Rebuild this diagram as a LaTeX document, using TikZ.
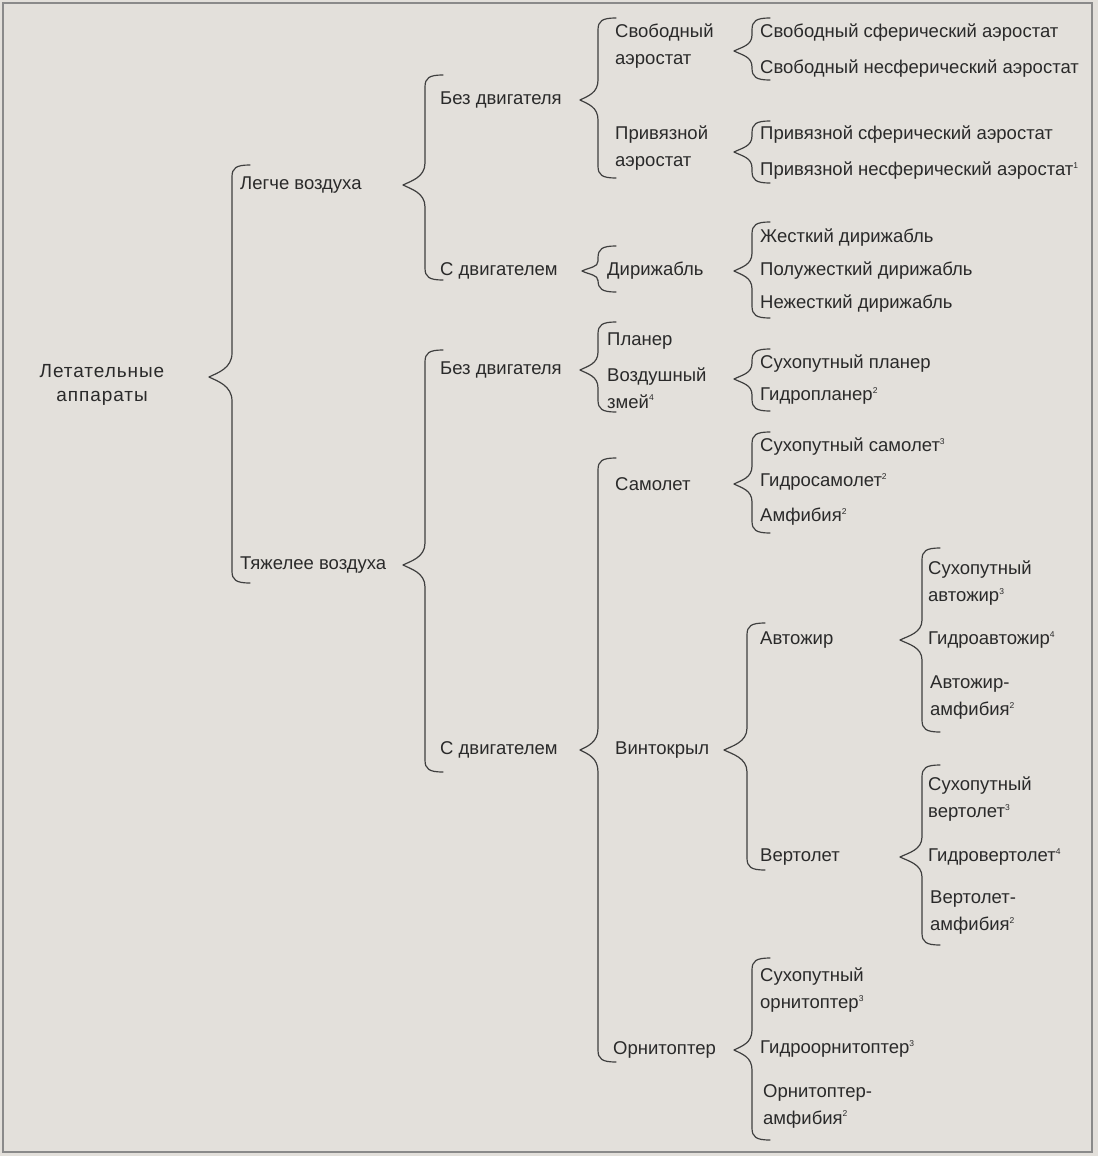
\documentclass[tikz,border=0pt]{standalone}
\usepackage{fontspec}
\setmainfont{Liberation Sans}
\definecolor{bg}{HTML}{E3E0DB}
\definecolor{ink}{HTML}{2A2A2A}
\definecolor{frame}{HTML}{8A8A8A}
\newcommand\fnm[1]{\raisebox{0.75ex}{\fontsize{8.5}{8.5}\selectfont #1}}
% brace: #1 line x, #2 top y, #3 bottom y, #4 tip y, #5 tip x, #6 curve length
\newcommand\brc[6]{%
 \draw[brcline] (#1+18,#2) .. controls (#1+4,#2) and (#1,#2+3) .. (#1,#2+12)
   -- (#1,#4-#6) .. controls (#1,#4-#6*0.35) and (#5+8,#4-4) .. (#5,#4)
   .. controls (#5+8,#4+4) and (#1,#4+#6*0.35) .. (#1,#4+#6)
   -- (#1,#3-12) .. controls (#1,#3-3) and (#1+4,#3) .. (#1+18,#3);}
\tikzset{
 lbl/.style={anchor=west,inner sep=0pt,text=ink,align=left,font=\fontsize{18.5}{27}\selectfont},
 brcline/.style={draw=ink!90,line width=1.2pt,line cap=round,line join=round}
}
\begin{document}
\begin{tikzpicture}[x=1pt,y=-1pt]
\fill[bg] (0,0) rectangle (1098,1156);
\useasboundingbox (0,0) rectangle (1098,1156);
\draw[frame,line width=1.5pt] (3,3) rectangle (1092,1152);

% level 0
\node[lbl,anchor=center,align=center,font=\fontsize{19}{24}\selectfont\addfontfeature{LetterSpace=5}] (root) at (102,385) {Летательные\\аппараты};
% level 1
\node[lbl] (light) at (240,185) {Легче воздуха};
\node[lbl] (heavy) at (240,565) {Тяжелее воздуха};
% level 2
\node[lbl] (lnoeng) at (440,100) {Без двигателя};
\node[lbl] (leng) at (440,271) {С двигателем};
\node[lbl] (hnoeng) at (440,370) {Без двигателя};
\node[lbl] (heng) at (440,750) {С двигателем};
% level 3
\node[lbl] (free) at (615,46) {Свободный\\аэростат};
\node[lbl] (tied) at (615,148) {Привязной\\аэростат};
\node[lbl] (dir) at (607,271) {Дирижабль};
\node[lbl] (glider) at (607,341) {Планер};
\node[lbl] (kite) at (607,388) {Воздушный\\змей\fnm{4}};
\node[lbl] (plane) at (615,484) {Самолет};
\node[lbl] (rotor) at (615,750) {Винтокрыл};
\node[lbl] (orni) at (613,1050) {Орнитоптер};
% level 4
\node[lbl] (f1) at (760,33) {Свободный сферический аэростат};
\node[lbl] (f2) at (760,69) {Свободный несферический аэростат};
\node[lbl] (t1) at (760,135) {Привязной сферический аэростат};
\node[lbl] (t2) at (760,171) {Привязной несферический аэростат\fnm{1}};
\node[lbl] (d1) at (760,238) {Жесткий дирижабль};
\node[lbl] (d2) at (760,271) {Полужесткий дирижабль};
\node[lbl] (d3) at (760,304) {Нежесткий дирижабль};
\node[lbl] (g1) at (760,364) {Сухопутный планер};
\node[lbl] (g2) at (760,396) {Гидропланер\fnm{2}};
\node[lbl] (p1) at (760,447) {Сухопутный самолет\fnm{3}};
\node[lbl] (p2) at (760,482) {Гидросамолет\fnm{2}};
\node[lbl] (p3) at (760,517) {Амфибия\fnm{2}};
\node[lbl] (gyro) at (760,640) {Автожир};
\node[lbl] (heli) at (760,857) {Вертолет};
\node[lbl] (o1) at (760,990) {Сухопутный\\орнитоптер\fnm{3}};
\node[lbl] (o2) at (760,1049) {Гидроорнитоптер\fnm{3}};
\node[lbl] (o3) at (763,1106) {Орнитоптер-\\амфибия\fnm{2}};
% level 5
\node[lbl] (a1) at (928,583) {Сухопутный\\автожир\fnm{3}};
\node[lbl] (a2) at (928,640) {Гидроавтожир\fnm{4}};
\node[lbl] (a3) at (930,698) {Автожир-\\амфибия\fnm{2}};
\node[lbl] (v1) at (928,799) {Сухопутный\\вертолет\fnm{3}};
\node[lbl] (v2) at (928,857) {Гидровертолет\fnm{4}};
\node[lbl] (v3) at (930,913) {Вертолет-\\амфибия\fnm{2}};

% braces
\brc{232}{165}{583}{377}{209}{24}
\brc{425}{75}{280}{185}{403}{22}
\brc{425}{350}{772}{565}{403}{22}
\brc{598}{18}{178}{100}{580}{20}
\brc{598}{246}{292}{271}{582}{10}
\brc{598}{322}{412}{370}{580}{18}
\brc{598}{458}{1062}{750}{580}{22}
\brc{752}{18}{80}{51}{734}{16}
\brc{752}{121}{183}{152}{734}{16}
\brc{752}{222}{318}{271}{734}{18}
\brc{752}{349}{411}{379}{734}{16}
\brc{752}{432}{533}{484}{734}{18}
\brc{747}{623}{870}{750}{724}{22}
\brc{922}{548}{732}{640}{900}{20}
\brc{922}{765}{945}{857}{900}{20}
\brc{752}{958}{1140}{1050}{734}{20}
\end{tikzpicture}
\end{document}
